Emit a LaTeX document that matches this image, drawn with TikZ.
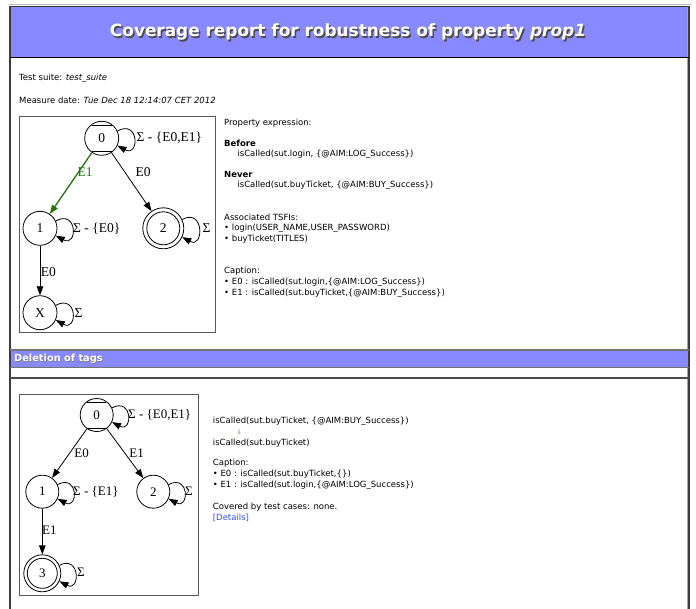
\documentclass[tikz,border=0pt]{standalone}
\usepackage{fontspec}
\setmainfont{DejaVu Sans}
\newfontfamily\serf{Liberation Serif}
\usetikzlibrary{arrows.meta}
\definecolor{hblue}{RGB}{136,136,255}
\definecolor{framedark}{RGB}{60,60,60}
\definecolor{gcol}{RGB}{35,115,15}
\definecolor{linkblue}{RGB}{50,80,240}
\definecolor{arrorange}{RGB}{205,105,55}
\tikzset{
  txt/.style={anchor=west,inner sep=0pt,font=\fontsize{8.5}{10}\selectfont},
  titlestyle/.style={inner sep=0pt,font=\fontsize{16.9}{18}\selectfont\bfseries},
  boxc/.style={draw=black!65,line width=0.9pt},
  st/.style={circle,draw,line width=0.8pt,minimum size=34pt,inner sep=0pt,font=\serf\fontsize{13.5}{13.5}\selectfont},
  sst/.style={st,minimum size=33pt,font=\serf\fontsize{13}{13}\selectfont},
  mst/.style={st,path picture={
     \draw[line width=0.8pt] ([shift={(-10pt,-3.6pt)}]path picture bounding box.north) -- ++(20pt,0);
     \draw[line width=0.8pt] ([shift={(-10pt,3.6pt)}]path picture bounding box.south) -- ++(20pt,0);}},
  smst/.style={sst,path picture={
     \draw[line width=0.8pt] ([shift={(-9.5pt,-3.5pt)}]path picture bounding box.north) -- ++(19pt,0);
     \draw[line width=0.8pt] ([shift={(-9.5pt,3.5pt)}]path picture bounding box.south) -- ++(19pt,0);}},
  dst/.style={st,minimum size=41pt,path picture={
     \draw[line width=0.8pt] (path picture bounding box.center) circle[radius=16.5pt];}},
  sdst/.style={sst,minimum size=37pt,path picture={
     \draw[line width=0.8pt] (path picture bounding box.center) circle[radius=15pt];}},
  edge/.style={draw,line width=0.8pt,-{Triangle[length=9pt,width=6.5pt]}},
  glab/.style={inner sep=0pt,font=\serf\fontsize{13.5}{13.5}\selectfont},
  sglab/.style={inner sep=0pt,font=\serf\fontsize{13}{13}\selectfont},
}
\begin{document}
\begin{tikzpicture}[x=1pt,y=-1pt]
\useasboundingbox (0,0) rectangle (696,608);
% frame and header
\fill[hblue] (11,6.5) rectangle (688,57);
\draw[black!25,line width=1.4pt] (8.5,4.5) -- (691,4.5);
\draw[framedark,line width=1pt] (10,6.2) -- (689,6.2);
\draw[framedark,line width=2pt] (10,5.7) -- (10,610);
\draw[black!35,line width=1pt] (687.3,6.7) -- (687.3,610);
\draw[framedark,line width=2pt] (689.3,5.7) -- (689.3,610);
\draw[black,line width=1.3pt] (10,57.3) -- (689,57.3);
\node[titlestyle,text=black!70] (tshadow) at (349.5,33.5) {Coverage report for robustness of property \textit{prop1}};
\node[titlestyle,text=white] (title) at (348,32) {Coverage report for robustness of property \textit{prop1}};
% meta text
\node[txt] (ts) at (19,78) {Test suite: \textit{test\_suite}};
\node[txt] (md) at (19,100) {Measure date: \textit{Tue Dec 18 12:14:07 CET 2012}};
% graph 1
\draw[boxc] (19.3,116) rectangle (215,332.7);
\node[mst] (a0) at (101.7,138.3) {0};
\node[st] (a1) at (40,228.3) {1};
\node[dst] (a2) at (163.3,228.3) {2};
\node[st] (aX) at (40,312.7) {X};
\draw[edge,draw=gcol,line width=1.3pt,-{Triangle[length=9pt,width=6.5pt]}] (a0) -- (a1);
\draw[edge] (a0) -- (a2);
\draw[edge] (a1) -- (aX);
\node[glab,text=gcol] (la01) at (85,171.7) {E1};
\node[glab] (la02) at (143,171.7) {E0};
\node[glab] (la1X) at (48.3,271.7) {E0};
\draw[edge] (a0.25) .. controls +(22,-12) and +(22,12) .. (a0.-25);
\draw[edge] (a1.25) .. controls +(22,-12) and +(22,12) .. (a1.-25);
\draw[edge] (a2.25) .. controls +(22,-12) and +(22,12) .. (a2.-25);
\draw[edge] (aX.25) .. controls +(22,-12) and +(22,12) .. (aX.-25);
\node[glab,anchor=west] (l0) at (136.5,138.3) {Σ - \{E0,E1\}};
\node[glab,anchor=west] (l1) at (73,228.3) {Σ - \{E0\}};
\node[glab,anchor=west] (l2) at (202.5,228.3) {Σ};
\node[glab,anchor=west] (lX) at (74.5,312.7) {Σ};
% text 1
\node[txt] (p1) at (224,122.7) {Property expression:};
\node[txt] (p2) at (224,143.3) {\textbf{Before}};
\node[txt] (p3) at (237.3,154) {isCalled(sut.login, \{@AIM:LOG\_Success\})};
\node[txt] (p4) at (224,174.8) {\textbf{Never}};
\node[txt] (p5) at (237.3,185.5) {isCalled(sut.buyTicket, \{@AIM:BUY\_Success\})};
\node[txt] (p6) at (224,217) {Associated TSFIs:};
\node[txt] (p7) at (224,228) {• login(USER\_NAME,USER\_PASSWORD)};
\node[txt] (p8) at (224,239) {• buyTicket(TITLES)};
\node[txt] (p9) at (224,271) {Caption:};
\node[txt] (p10) at (224,282) {• E0 : isCalled(sut.login,\{@AIM:LOG\_Success\})};
\node[txt] (p11) at (224,293) {• E1 : isCalled(sut.buyTicket,\{@AIM:BUY\_Success\})};
% section 2
\draw[black!55,line width=1.5pt] (10,350) -- (689,350);
\fill[hblue] (11,351) rectangle (688,366.8);
\draw[black!55,line width=1.2pt] (10,367.5) -- (689,367.5);
\draw[black!70,line width=2pt] (10,377.7) -- (689,377.7);
\node[anchor=west,inner sep=0pt,font=\fontsize{9.8}{10}\selectfont\bfseries,text=black!50] (dshadow) at (14.6,359.6) {Deletion of tags};
\node[anchor=west,inner sep=0pt,font=\fontsize{9.8}{10}\selectfont\bfseries,text=white] (dtitle) at (14,359) {Deletion of tags};
% graph 2
\draw[boxc] (19.3,394) rectangle (198,595);
\node[smst] (b0) at (96.7,415) {0};
\node[sst] (b1) at (42.3,491.7) {1};
\node[sst] (b2) at (153.3,491.7) {2};
\node[sdst] (b3) at (42.3,573.3) {3};
\draw[edge] (b0) -- (b1);
\draw[edge] (b0) -- (b2);
\draw[edge] (b1) -- (b3);
\node[sglab] (lb01) at (81.7,453) {E0};
\node[sglab] (lb02) at (136.7,453) {E1};
\node[sglab] (lb13) at (49.3,530) {E1};
\draw[edge] (b0.25) .. controls +(21,-11) and +(21,11) .. (b0.-25);
\draw[edge] (b1.25) .. controls +(21,-11) and +(21,11) .. (b1.-25);
\draw[edge] (b2.25) .. controls +(21,-11) and +(21,11) .. (b2.-25);
\draw[edge] (b3.25) .. controls +(21,-11) and +(21,11) .. (b3.-25);
\node[sglab,anchor=west] (m0) at (128,415) {Σ - \{E0,E1\}};
\node[sglab,anchor=west] (m1) at (73,491.7) {Σ - \{E1\}};
\node[sglab,anchor=west] (m2) at (185,491.7) {Σ};
\node[sglab,anchor=west] (m3) at (77,572.7) {Σ};
% text 2
\node[txt] (q1) at (212.7,421.7) {isCalled(sut.buyTicket, \{@AIM:BUY\_Success\})};
\node[inner sep=0pt,font=\fontsize{6.5}{6.5}\selectfont,text=arrorange] (q2) at (239.3,432.3) {⇓};
\node[txt] (q3) at (212.7,443.3) {isCalled(sut.buyTicket)};
\node[txt] (q4) at (212.7,463.3) {Caption:};
\node[txt] (q5) at (212.7,474.2) {• E0 : isCalled(sut.buyTicket,\{\})};
\node[txt] (q6) at (212.7,485) {• E1 : isCalled(sut.login,\{@AIM:LOG\_Success\})};
\node[txt] (q7) at (212.7,507.3) {Covered by test cases: none.};
\node[txt,text=linkblue] (q8) at (212.7,517.5) {[Details]};
\end{tikzpicture}
\end{document}
